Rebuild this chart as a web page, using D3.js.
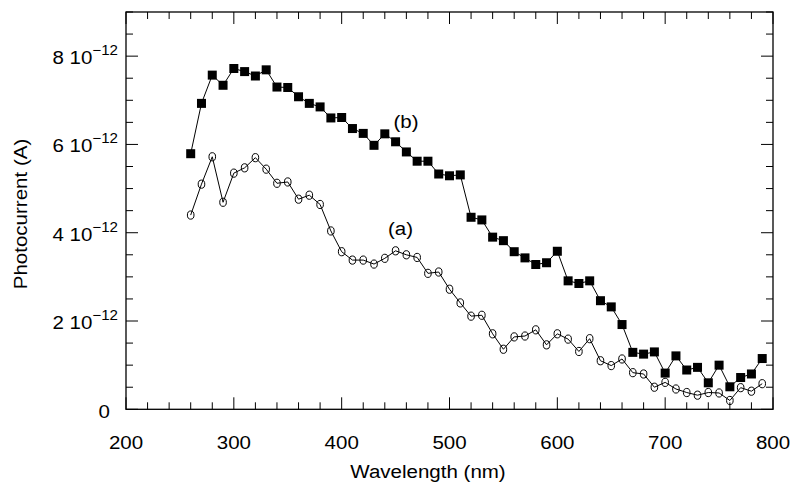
<!DOCTYPE html>
<html lang="en">
<head>
    <meta charset="UTF-8">
    <title>Photocurrent vs Wavelength</title>
    <script src="https://d3js.org/d3.v7.min.js"></script>
    <style>
        body { margin: 0; background: #fff; }
        text { font-family: "Liberation Sans", Arial, Helvetica, sans-serif; fill: #000; }
    </style>
</head>
<body>
    <svg id="chart" width="792" height="487"></svg>
    <script>
        // wavelength (nm)
        const wavelengths = [260, 270, 280, 290, 300, 310, 320, 330, 340, 350,
            360, 370, 380, 390, 400, 410, 420, 430, 440, 450,
            460, 470, 480, 490, 500, 510, 520, 530, 540, 550,
            560, 570, 580, 590, 600, 610, 620, 630, 640, 650,
            660, 670, 680, 690, 700, 710, 720, 730, 740, 750,
            760, 770, 780, 790];

        // photocurrent, in units of 1e-12 A
        const seriesA = [4.40, 5.10, 5.72, 4.69, 5.35, 5.47, 5.70, 5.44, 5.12, 5.15,
            4.76, 4.85, 4.64, 4.04, 3.57, 3.38, 3.38, 3.29, 3.42, 3.59,
            3.50, 3.44, 3.08, 3.11, 2.72, 2.41, 2.11, 2.13, 1.71, 1.36,
            1.64, 1.66, 1.80, 1.46, 1.71, 1.59, 1.31, 1.60, 1.10, 0.99,
            1.14, 0.83, 0.80, 0.50, 0.61, 0.46, 0.38, 0.32, 0.38, 0.37,
            0.20, 0.49, 0.41, 0.58];

        const seriesB = [5.79, 6.93, 7.57, 7.34, 7.72, 7.65, 7.55, 7.69, 7.30, 7.29,
            7.08, 6.93, 6.85, 6.60, 6.61, 6.36, 6.25, 5.98, 6.24, 6.06,
            5.83, 5.62, 5.62, 5.33, 5.29, 5.31, 4.35, 4.29, 3.90, 3.82,
            3.57, 3.43, 3.28, 3.32, 3.58, 2.91, 2.85, 2.91, 2.46, 2.32,
            1.92, 1.29, 1.25, 1.30, 0.82, 1.21, 0.89, 0.95, 0.60, 1.00,
            0.51, 0.72, 0.80, 1.15];

        const xTicks = [200, 300, 400, 500, 600, 700, 800];
        const yTicks = [0, 2, 4, 6, 8];
        const yTickLabels = ["0", "2", "4", "6", "8"];

        const svg = d3.select("#chart");
        const mLeft = 126, mRight = 773, mTop = 12, mBottom = 409.3;
        const sx = 1.08; // glyphs in the original are a bit wide
        const fs = 19;

        const x = d3.scaleLinear().domain([200, 800]).range([mLeft, mRight]);
        const y = d3.scaleLinear().domain([0, 9]).range([mBottom, mTop]);

        function label(px, py, str, anchor, size) {
            return svg.append("text")
                .attr("transform", `translate(${px},${py}) scale(${sx},1)`)
                .attr("text-anchor", anchor)
                .style("font-size", size + "px")
                .text(str);
        }

        // ticks, inward on all four sides
        const ticks = svg.append("g").attr("stroke", "#000").attr("stroke-width", 1);
        d3.range(200, 801, 20).forEach(v => {
            const len = v % 100 === 0 ? 12 : 7;
            ticks.append("line").attr("x1", x(v)).attr("x2", x(v)).attr("y1", mBottom).attr("y2", mBottom - len);
            ticks.append("line").attr("x1", x(v)).attr("x2", x(v)).attr("y1", mTop).attr("y2", mTop + len);
        });
        d3.range(0, 9.01, 0.5).forEach(v => {
            const len = v % 2 === 0 ? 12 : 7;
            ticks.append("line").attr("x1", mLeft).attr("x2", mLeft + len).attr("y1", y(v)).attr("y2", y(v));
            ticks.append("line").attr("x1", mRight).attr("x2", mRight - len).attr("y1", y(v)).attr("y2", y(v));
        });

        svg.append("rect")
            .attr("x", mLeft).attr("y", mTop)
            .attr("width", mRight - mLeft).attr("height", mBottom - mTop)
            .attr("fill", "none").attr("stroke", "#000").attr("stroke-width", 1.3);

        // tick labels
        xTicks.forEach(v => label(x(v), 449, String(v), "middle", fs));
        yTicks.forEach((v, i) => {
            if (v === 0) {
                label(110, y(v) + 8.5, yTickLabels[i], "end", fs);
            } else {
                const t = label(118, y(v) + 8, yTickLabels[i] + " 10", "end", fs);
                t.append("tspan").attr("dy", -9).style("font-size", "14px").text("\u221212");
            }
        });

        // axis titles
        label(428, 478, "Wavelength (nm)", "middle", fs);
        svg.append("text")
            .attr("transform", `translate(27,214) rotate(-90) scale(${sx},1)`)
            .attr("text-anchor", "middle")
            .style("font-size", fs + "px")
            .text("Photocurrent (A)");

        // series
        const line = d3.line().x((d, i) => x(wavelengths[i])).y(d => y(d));

        svg.append("path").datum(seriesA)
            .attr("fill", "none").attr("stroke", "#000").attr("stroke-width", 1)
            .attr("d", line);
        svg.append("path").datum(seriesB)
            .attr("fill", "none").attr("stroke", "#000").attr("stroke-width", 1)
            .attr("d", line);

        svg.append("g").selectAll("ellipse")
            .data(seriesA)
            .enter().append("ellipse")
                .attr("cx", (d, i) => x(wavelengths[i]))
                .attr("cy", d => y(d))
                .attr("rx", 3.3).attr("ry", 4.1)
                .attr("fill", "none").attr("stroke", "#000").attr("stroke-width", 1);

        const sq = 9;
        svg.append("g").selectAll("rect")
            .data(seriesB)
            .enter().append("rect")
                .attr("x", (d, i) => x(wavelengths[i]) - sq / 2)
                .attr("y", d => y(d) - sq / 2)
                .attr("width", sq).attr("height", sq)
                .attr("fill", "#000");

        // curve labels
        label(406, 128, "(b)", "middle", fs);
        label(400.5, 235, "(a)", "middle", fs);
    </script>
</body>
</html>
